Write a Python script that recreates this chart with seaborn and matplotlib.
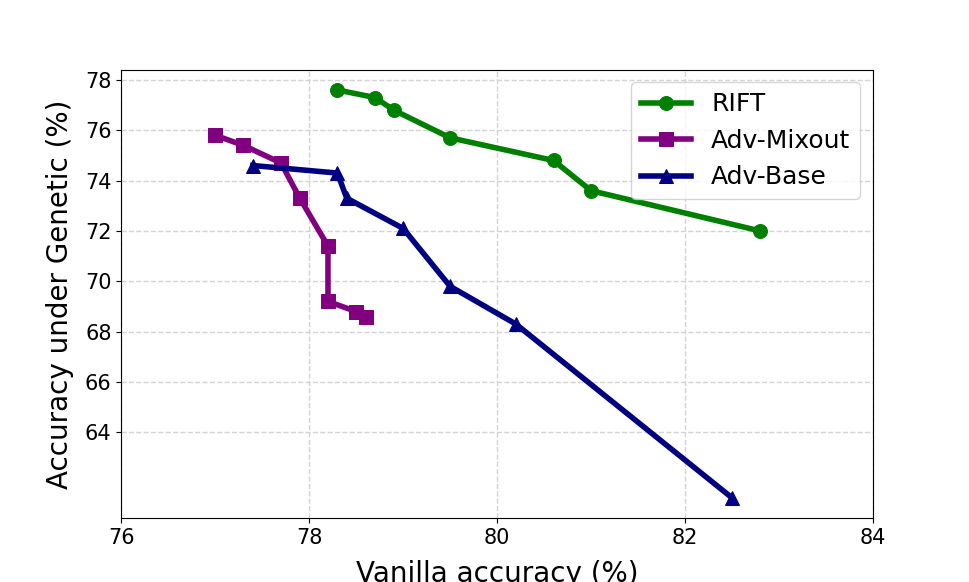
import numpy as np
import pandas as pd
import matplotlib
matplotlib.use("Agg")
import matplotlib.pyplot as plt
import seaborn as sns

rift_x = [78.3, 78.7, 78.9, 79.5, 80.6, 81.0, 82.8]
rift_y = [77.6, 77.3, 76.8, 75.7, 74.8, 73.6, 72.0]

mixout_x = [77.0, 77.3, 77.7, 77.9, 78.2, 78.2, 78.5, 78.6]
mixout_y = [75.8, 75.4, 74.7, 73.3, 71.4, 69.2, 68.8, 68.6]

base_x = [77.4, 78.3, 78.4, 79.0, 79.5, 80.2, 82.5]
base_y = [74.6, 74.3, 73.3, 72.1, 69.8, 68.3, 61.4]

methods = ["RIFT", "Adv-Mixout", "Adv-Base"]
colors = ["green", "purple", "navy"]
markers = ["o", "s", "^"]

frames = []
for name, xs, ys in zip(methods, [rift_x, mixout_x, base_x], [rift_y, mixout_y, base_y]):
    frames.append(pd.DataFrame({"Method": name, "Vanilla": xs, "Genetic": ys,
                                "step": range(len(xs))}))
df = pd.concat(frames, ignore_index=True)

plt.rcdefaults()
plt.rcParams["xtick.labelsize"] = 15
plt.rcParams["ytick.labelsize"] = 15

fig, ax = plt.subplots(figsize=(9.7, 5.82), dpi=100)
for name, c, m in zip(methods, colors, markers):
    sub = df[df["Method"] == name]
    sns.lineplot(data=sub, x="Vanilla", y="Genetic", sort=False, estimator=None,
                 color=c, marker=m, markersize=10, markeredgecolor=c,
                 linewidth=4, label=name, ax=ax)

ax.set_xlim(76, 84)
ax.set_ylim(60.6, 78.4)
ax.set_xticks([76, 78, 80, 82, 84])
ax.set_yticks([64, 66, 68, 70, 72, 74, 76, 78])
ax.grid(True, linestyle="--", color="lightgray", linewidth=1)
ax.set_axisbelow(True)
ax.set_xlabel("Vanilla accuracy (%)", fontsize=20, labelpad=9)
ax.set_ylabel("Accuracy under Genetic (%)", fontsize=20, labelpad=8)
ax.legend(loc="upper right", fontsize=18)

fig.savefig("out.png", dpi=100)
